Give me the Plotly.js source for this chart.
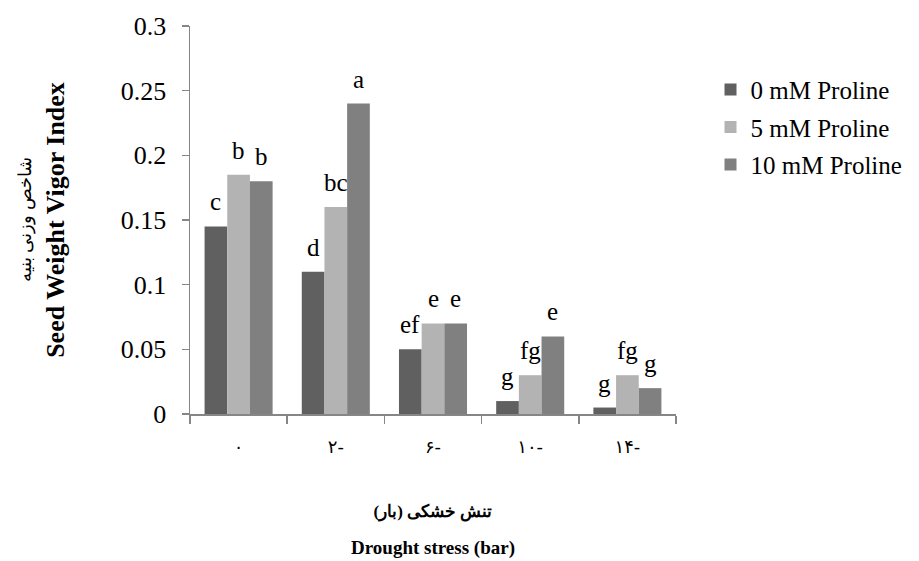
<!DOCTYPE html>
<html>
<head>
<meta charset="utf-8">
<script src="https://cdn.plot.ly/plotly-3.0.1.min.js"></script>
<style>html,body{margin:0;padding:0;background:#fff;}#chart{width:919px;height:561px;}</style>
</head>
<body>
<div id="chart"></div>
<script>
// Drought stress levels (bar), displayed with Persian digits
var categories = ["۰", "۲-", "۶-", "۱۰-", "۱۴-"];
var seriesNames = ["0 mM Proline", "5 mM Proline", "10 mM Proline"];
var proline0  = [0.145, 0.110, 0.050, 0.010, 0.005];
var proline5  = [0.185, 0.160, 0.070, 0.030, 0.030];
var proline10 = [0.180, 0.240, 0.070, 0.060, 0.020];
var letters0  = ["c", "d", "ef", "g", "g"];
var letters5  = ["b", "bc", "e", "fg", "fg"];
var letters10 = ["b", "a", "e", "e", "g"];
var colors = ["#606060", "#b3b3b3", "#808080"];

var values = [proline0, proline5, proline10];
var letters = [letters0, letters5, letters10];
var bargap = 0.3;
var serif = "Liberation Serif, Times New Roman, serif";

var traces = values.map(function (v, j) {
  return {
    type: "bar",
    name: seriesNames[j],
    x: categories,
    y: v,
    marker: {color: colors[j], line: {width: 0}},
    legendgroup: "g" + j,
    hoverinfo: "x+y+name"
  };
});

var annotations = [];
var w = (1 - bargap) / 3;
values.forEach(function (v, j) {
  v.forEach(function (val, i) {
    annotations.push({
      xref: "x", yref: "y",
      x: i + (j - 1) * w, y: val,
      text: letters[j][i],
      showarrow: false,
      xanchor: "center", yanchor: "bottom",
      yshift: 9,
      font: {family: serif, size: 25, color: "#000"}
    });
  });
});

var layout = {
  width: 919, height: 561,
  margin: {l: 190, r: 238, t: 26, b: 147},
  paper_bgcolor: "#fff", plot_bgcolor: "#fff",
  barmode: "group", bargap: bargap, bargroupgap: 0,
  showlegend: true,
  legend: {
    x: 1.071, xanchor: "left", y: 0.895, yanchor: "top",
    font: {family: serif, size: 25, color: "#000"},
    traceorder: "grouped", tracegroupgap: 2,
    itemwidth: 30
  },
  xaxis: {
    type: "category",
    showline: true, linecolor: "#868686", linewidth: 1.5,
    ticks: "outside", tickson: "boundaries", ticklen: 8, tickcolor: "#868686", tickwidth: 1.5,
    tickfont: {family: "DejaVu Sans, sans-serif", size: 18, color: "#000"},
    ticklabelstandoff: 16,
    showgrid: false, zeroline: false,
    title: {
      text: "<span style='font-size:17px'><b>تنش خشکی (بار)</b></span><br><span style='font-size:19px'><b>Drought stress (bar)</b></span>",
      font: {family: serif, size: 29, color: "#000"},
      standoff: 40
    },
    automargin: false
  },
  yaxis: {
    range: [0, 0.3], dtick: 0.05,
    showline: true, linecolor: "#868686", linewidth: 1.5,
    ticks: "outside", ticklen: 7, tickcolor: "#868686", tickwidth: 1.5,
    tickfont: {family: serif, size: 26, color: "#000"},
    ticklabelstandoff: 10,
    showgrid: false, zeroline: false,
    title: {
      text: "<span style='font-size:18px'>شاخص وزنی بنیه</span><br><b>Seed Weight Vigor Index</b>",
      font: {family: serif, size: 26, color: "#000"},
      standoff: 48
    },
    automargin: false
  },
  annotations: annotations
};

Plotly.newPlot("chart", traces, layout, {displayModeBar: false, staticPlot: true});
</script>
</body>
</html>
